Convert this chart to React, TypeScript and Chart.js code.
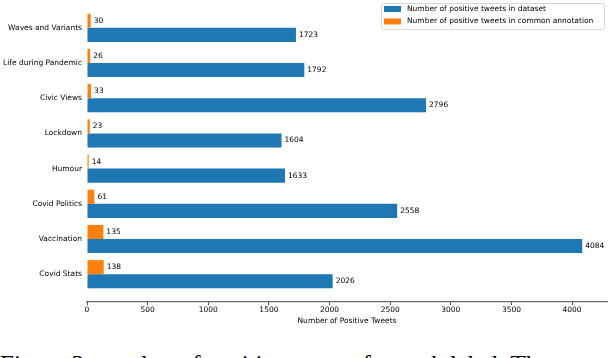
import React, { useEffect, useRef } from "react";
import { Chart, registerables } from "chart.js";

Chart.register(...registerables);

const categories = [
  "Waves and Variants",
  "Life during Pandemic",
  "Civic Views",
  "Lockdown",
  "Humour",
  "Covid Politics",
  "Vaccination",
  "Covid Stats",
];
const datasetCounts = [1723, 1792, 2796, 1604, 1633, 2558, 4084, 2026];
const commonCounts = [30, 26, 33, 23, 14, 61, 135, 138];
const xTickValues = [0, 500, 1000, 1500, 2000, 2500, 3000, 3500, 4000];
const seriesLabels = [
  "Number of positive tweets in dataset",
  "Number of positive tweets in common annotation",
];
const seriesColors = ["#1f77b4", "#ff7f0e"];
const xTitle = "Number of Positive Tweets";
const caption = "Figure 3: number of positive tweets for each label. The";

const FONT = '"DejaVu Sans", sans-serif';
const FS = 7.5;

export default function App() {
  const ref = useRef<HTMLCanvasElement | null>(null);

  useEffect(() => {
    if (!ref.current) return;
    const n = categories.length;
    const pos = (i: number) => n - 1 - i;

    const valueLabels = {
      id: "valueLabels",
      afterDatasetsDraw(chart: any) {
        const ctx = chart.ctx;
        ctx.save();
        ctx.font = `${FS}px ${FONT}`;
        ctx.fillStyle = "#000";
        ctx.textBaseline = "middle";
        ctx.textAlign = "left";
        chart.data.datasets.forEach((ds: any, di: number) => {
          const meta = chart.getDatasetMeta(di);
          meta.data.forEach((el: any, i: number) => {
            ctx.fillText(String(ds.data[i].x), el.x + 3, el.y);
          });
        });
        ctx.restore();
      },
    };

    const customLegend = {
      id: "customLegend",
      afterDraw(chart: any) {
        const ctx = chart.ctx;
        ctx.save();
        const lx = 381, ly = 3, lw = 223, lh = 26;
        ctx.fillStyle = "rgba(255,255,255,0.8)";
        ctx.strokeStyle = "#d6d6d6";
        ctx.lineWidth = 1;
        ctx.beginPath();
        (ctx as any).roundRect(lx + 0.5, ly + 0.5, lw, lh, 2);
        ctx.fill();
        ctx.stroke();
        ctx.font = `${FS}px ${FONT}`;
        ctx.textBaseline = "middle";
        ctx.textAlign = "left";
        seriesLabels.forEach((lab, i) => {
          const cy = 9 + i * 12.5;
          ctx.fillStyle = seriesColors[i];
          ctx.fillRect(384, cy - 3, 17, 6);
          ctx.fillStyle = "#000";
          ctx.fillText(lab, 407, cy);
        });
        ctx.restore();
      },
    };

    const chart = new Chart(ref.current, {
      type: "bar",
      data: {
        datasets: [
          {
            label: seriesLabels[1],
            data: commonCounts.map((v, i) => ({ x: v, y: pos(i) })),
            backgroundColor: seriesColors[1],
            borderWidth: 0,
          },
          {
            label: seriesLabels[0],
            data: datasetCounts.map((v, i) => ({ x: v, y: pos(i) })),
            backgroundColor: seriesColors[0],
            borderWidth: 0,
          },
        ],
      },
      options: {
        indexAxis: "y",
        animation: false,
        responsive: false,
        maintainAspectRatio: false,
        categoryPercentage: 0.8,
        barPercentage: 1.0,
        layout: { padding: { top: 0, right: 1, bottom: 0, left: 0 } },
        plugins: {
          legend: { display: false },
          tooltip: { enabled: false },
        },
        scales: {
          x: {
            type: "linear",
            position: "bottom",
            min: 0,
            max: 4288,
            offset: false,
            afterBuildTicks: (s: any) => {
              s.ticks = xTickValues.map((v) => ({ value: v }));
            },
            afterFit: (s: any) => {
              s.height = 33;
              s.paddingLeft = 0;
              s.paddingRight = 0;
              s.paddingTop = 0;
              s.paddingBottom = 0;
            },
            grid: {
              drawOnChartArea: false,
              drawTicks: true,
              tickLength: 3,
              tickWidth: 1,
              color: "#444",
              offset: false,
            },
            border: { display: true, color: "#666", width: 1.3 },
            ticks: {
              font: { family: FONT, size: FS },
              color: "#000",
              padding: 1,
              maxRotation: 0,
              autoSkip: false,
              callback: (v: any) => String(v),
            },
            title: {
              display: true,
              text: xTitle,
              font: { family: FONT, size: FS },
              color: "#000",
              padding: { top: 0, bottom: 9.5 },
            },
          },
          y: {
            type: "linear",
            min: -0.79,
            max: 7.79,
            offset: false,
            afterBuildTicks: (s: any) => {
              s.ticks = categories.map((_, i) => ({ value: pos(i) }));
            },
            afterFit: (s: any) => {
              s.width = 87;
              s.paddingLeft = 0;
              s.paddingRight = 0;
              s.paddingTop = 0;
              s.paddingBottom = 0;
            },
            grid: { display: false, drawTicks: false, offset: false },
            border: { display: false },
            ticks: {
              font: { family: FONT, size: FS },
              color: "#000",
              padding: 5,
              autoSkip: false,
              callback: (v: any) => categories[n - 1 - Number(v)],
            },
          },
        },
      },
      plugins: [valueLabels, customLegend],
    } as any);

    return () => chart.destroy();
  }, []);

  return (
    <div
      style={{
        position: "fixed",
        left: 0,
        top: 0,
        width: 608,
        height: 358,
        overflow: "hidden",
        background: "#fff",
      }}
    >
      <canvas ref={ref} width={608} height={335} style={{ display: "block" }} />
      <div
        style={{
          position: "absolute",
          left: 0,
          top: 351,
          whiteSpace: "nowrap",
          fontFamily: '"Liberation Serif", serif',
          fontSize: 25,
          lineHeight: "28px",
          color: "#000",
        }}
      >
        {caption}
      </div>
    </div>
  );
}
